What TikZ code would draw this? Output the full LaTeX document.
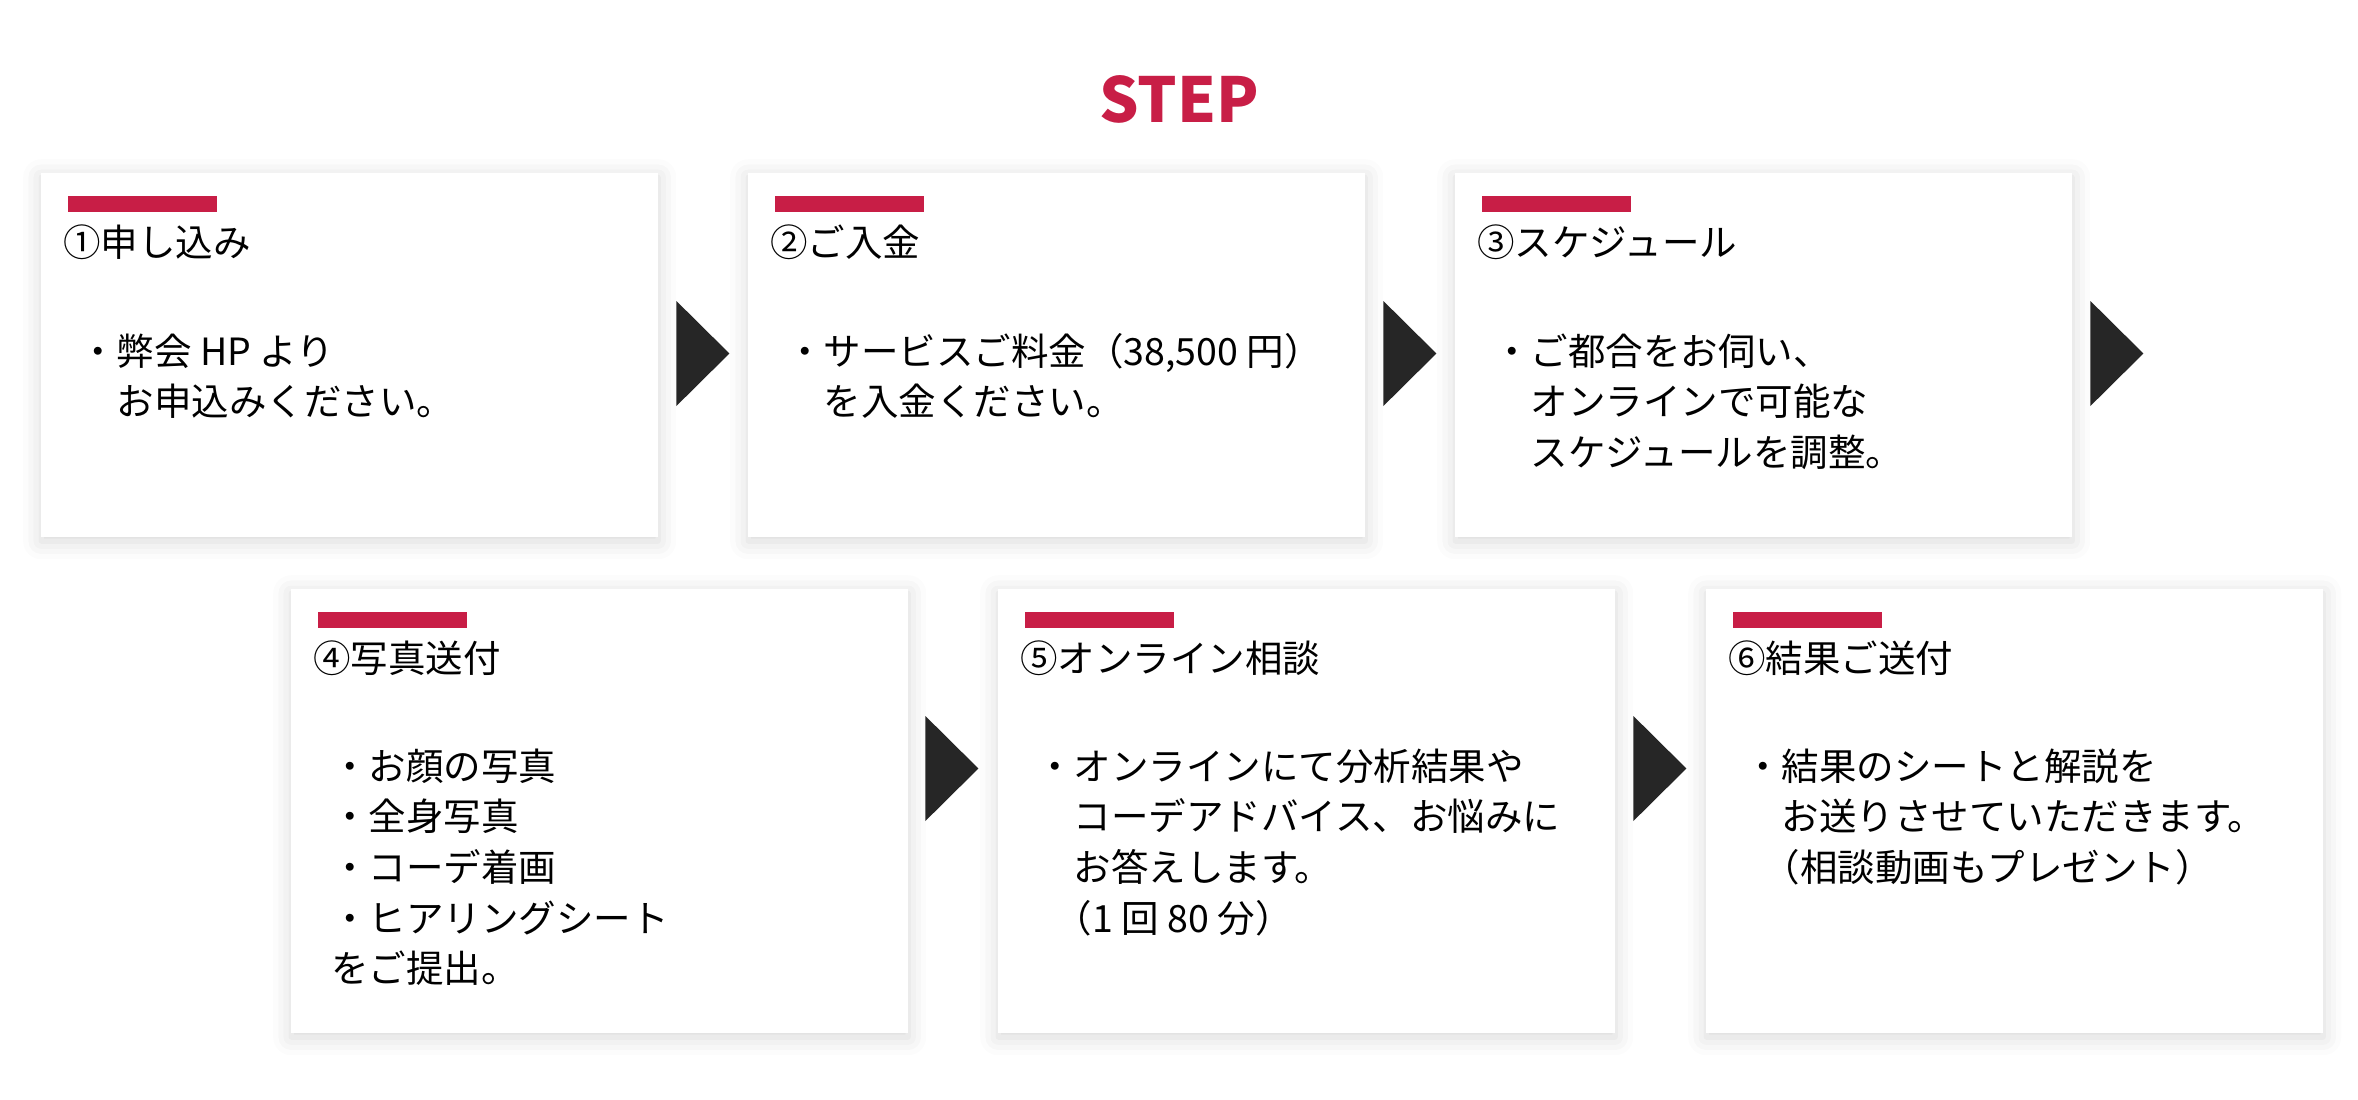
\documentclass[tikz,border=0pt]{standalone}
\usepackage{fontspec}
\setmainfont{Noto Sans CJK JP}
\usepackage{tikz}
\usetikzlibrary{calc,shadows.blur}
\definecolor{stepred}{RGB}{200,30,70}
\definecolor{arrowdark}{RGB}{38,38,38}

\begin{document}
\begin{tikzpicture}[x=1pt,y=-1pt,
                    box/.style={anchor=north west,fill=white,minimum width=617,inner sep=0,
                                blur shadow={shadow xshift=0pt,shadow yshift=-4pt,shadow blur radius=18pt,shadow opacity=16}},
                    bar/.style={fill=stepred},
                    next/.style={fill=arrowdark},
                    step header/.style={anchor=west,inner sep=0,font=\fontsize{37.5}{45}\selectfont},
                    step body/.style={anchor=base west,inner sep=0,align=left,font=\fontsize{37.5}{50.7}\selectfont},
                    title/.style={anchor=base,inner sep=0,text=stepred,font=\fontsize{62}{70}\selectfont\bfseries}]
            \useasboundingbox (0,0) rectangle (2358,1100);
            \node[title] (step) at (1179,122) {STEP};

            \node[box,minimum height=364] (apply) at (41,173) {};
            \node[box,minimum height=364] (payment) at (748,173) {};
            \node[box,minimum height=364] (schedule) at (1455,173) {};
            \node[box,minimum height=444] (photo) at (291,589) {};
            \node[box,minimum height=444] (online) at (998,589) {};
            \node[box,minimum height=444] (result) at (1706,589) {};

            \fill[bar] ($ (apply.north west) + (27,23) $) rectangle ++(149,16);
            \fill[bar] ($ (payment.north west) + (27,23) $) rectangle ++(149,16);
            \fill[bar] ($ (schedule.north west) + (27,23) $) rectangle ++(149,16);
            \fill[bar] ($ (photo.north west) + (27,23) $) rectangle ++(149,16);
            \fill[bar] ($ (online.north west) + (27,23) $) rectangle ++(149,16);
            \fill[bar] ($ (result.north west) + (27,23) $) rectangle ++(149,16);

            \node[step header] (apply title) at ($ (apply.north west) + (22,69) $) {①申し込み};
            \node[step header] (payment title) at ($ (payment.north west) + (22,69) $) {②ご入金};
            \node[step header] (schedule title) at ($ (schedule.north west) + (22,69) $) {③スケジュール};
            \node[step header] (photo title) at ($ (photo.north west) + (22,69) $) {④写真送付};
            \node[step header] (online title) at ($ (online.north west) + (22,69) $) {⑤オンライン相談};
            \node[step header] (result title) at ($ (result.north west) + (22,69) $) {⑥結果ご送付};

            % base anchor sits on the last line
            \node[step body] (apply text) at ($ (apply.north west) + (38,242.7) $) {・弊会 HP より\\　お申込みください。};
            \node[step body] (payment text) at ($ (payment.north west) + (38,242.7) $) {・サービスご料金（38,500 円）\\　を入金ください。};
            \node[step body] (schedule text) at ($ (schedule.north west) + (38,293.4) $) {・ご都合をお伺い、\\　オンラインで可能な\\　スケジュールを調整。};
            \node[step body] (photo text) at ($ (photo.north west) + (40,393.8) $) {・お顔の写真\\・全身写真\\・コーデ着画\\・ヒアリングシート\\をご提出。};
            \node[step body] (online text) at ($ (online.north west) + (38,343.1) $) {・オンラインにて分析結果や\\　コーデアドバイス、お悩みに\\　お答えします。\\　\hspace*{-0.5em}（1 回 80 分）};
            \node[step body] (result text) at ($ (result.north west) + (38,292.4) $) {・結果のシートと解説を\\　お送りさせていただきます。\\　\hspace*{-0.5em}（相談動画もプレゼント）};

            \fill[next] ($ (apply.north east) + (18,128) $) -- ++(53,52.5) -- ++(-53,52.5) -- cycle;
            \fill[next] ($ (payment.north east) + (18,128) $) -- ++(53,52.5) -- ++(-53,52.5) -- cycle;
            \fill[next] ($ (schedule.north east) + (18,128) $) -- ++(53,52.5) -- ++(-53,52.5) -- cycle;
            \fill[next] ($ (photo.north east) + (17,127) $) -- ++(53,52.5) -- ++(-53,52.5) -- cycle;
            \fill[next] ($ (online.north east) + (18,127) $) -- ++(53,52.5) -- ++(-53,52.5) -- cycle;

        \end{tikzpicture}
\end{document}
